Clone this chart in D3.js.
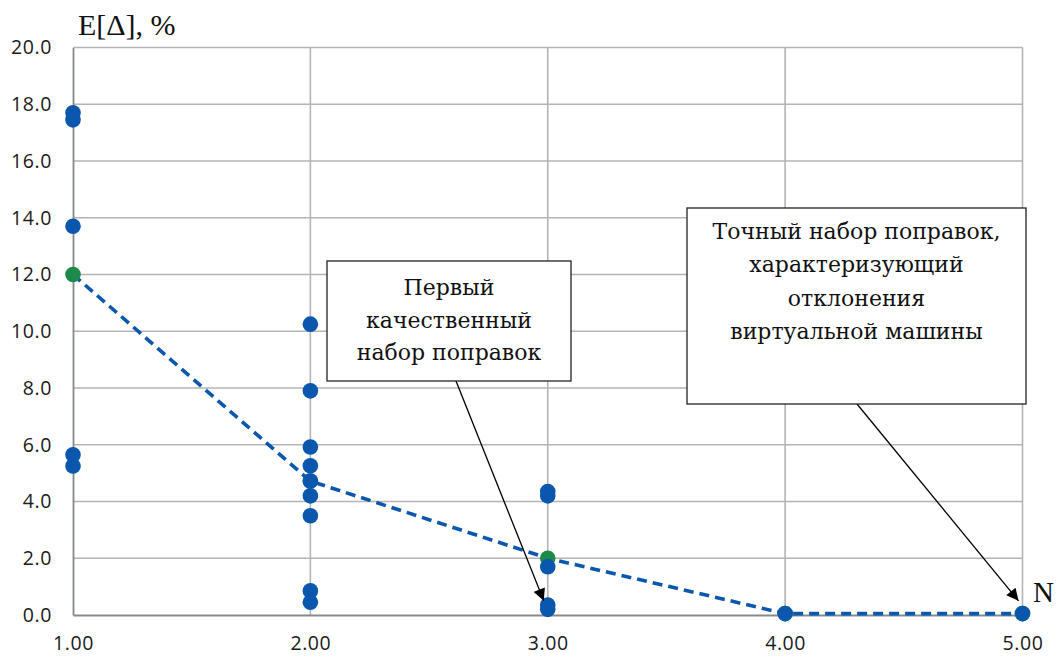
<!DOCTYPE html>
<html>
<head>
<meta charset="utf-8">
<script src="https://cdn.jsdelivr.net/npm/d3@7"></script>
<style>
  html, body { margin: 0; padding: 0; background: #fff; }
  svg { display: block; }
</style>
</head>
<body>
<svg id="chart" width="1057" height="657"></svg>
<script>
// Number of correction sets N and the mean error E[Δ] of each candidate
const xTicks = [1, 2, 3, 4, 5];
const yTicks = [0, 2, 4, 6, 8, 10, 12, 14, 16, 18, 20];

const pointN = [1, 1, 1, 1, 1,
                2, 2, 2, 2, 2, 2, 2, 2, 2,
                3, 3, 3, 3, 3,
                4, 5];
const pointE = [17.7, 17.45, 13.7, 5.65, 5.25,
                10.25, 7.9, 5.92, 5.26, 4.72, 4.2, 3.5, 0.85, 0.45,
                4.35, 4.2, 1.7, 0.35, 0.2,
                0.05, 0.05];

// Best set at each N, joined by the dashed line
const bestN = [1, 2, 3, 4, 5];
const bestE = [12.0, 4.72, 2.0, 0.05, 0.05];

// Callouts: text lines and the point each arrow refers to
const note1Lines = ["Первый", "качественный", "набор поправок"];
const note1Target = [3, 0.5];
const note2Lines = ["Точный набор поправок,", "характеризующий", "отклонения", "виртуальной машины"];
const note2Target = [5, 0.5];

const svg = d3.select("#chart");
const plotLeft = 73, plotRight = 1022.5, plotTop = 47.5, plotBottom = 615;

const x = d3.scaleLinear().domain([1, 5]).range([plotLeft, plotRight]);
const y = d3.scaleLinear().domain([0, 20]).range([plotBottom, plotTop]);

const gridColor = "#b4b4b4";
const axisColor = "#85898a";
const blue = "#0b57ad";
const green = "#1c8a4b";
const serif = "'DejaVu Serif', 'Liberation Serif', serif";

// Grid
svg.append("g").selectAll("line").data(yTicks.filter(d => d > 0)).join("line")
  .attr("x1", plotLeft).attr("x2", plotRight)
  .attr("y1", d => y(d)).attr("y2", d => y(d))
  .attr("stroke", gridColor).attr("stroke-width", 1.6);
svg.append("g").selectAll("line").data(xTicks.filter(d => d > 1)).join("line")
  .attr("x1", d => x(d)).attr("x2", d => x(d))
  .attr("y1", plotTop).attr("y2", plotBottom)
  .attr("stroke", gridColor).attr("stroke-width", 1.6);

// Axes
const yAxis = d3.axisLeft(y).tickValues(yTicks).tickFormat(d3.format(".1f")).tickSize(0).tickPadding(21);
const xAxis = d3.axisBottom(x).tickValues(xTicks).tickFormat(d3.format(".2f")).tickSize(0).tickPadding(21);

const gy = svg.append("g").attr("transform", `translate(${plotLeft},0)`).call(yAxis);
const gx = svg.append("g").attr("transform", `translate(0,${plotBottom})`).call(xAxis);
[gx, gy].forEach(g => {
  g.select(".domain").attr("stroke", axisColor).attr("stroke-width", 1.8);
  g.selectAll("text")
    .attr("font-family", "'Open Sans', 'Liberation Sans', sans-serif")
    .attr("font-size", 19.5).attr("letter-spacing", 0.6).attr("fill", "#1a1a1a");
});

// Dashed line through the best set at each N
const lineData = bestN.map((n, i) => [n, bestE[i]]);
svg.append("path")
  .datum(lineData)
  .attr("d", d3.line().x(d => x(d[0])).y(d => y(d[1])))
  .attr("fill", "none").attr("stroke", blue)
  .attr("stroke-width", 3.6).attr("stroke-dasharray", "10,6");

// Best-set markers
svg.append("g").selectAll("circle").data(lineData).join("circle")
  .attr("cx", d => x(d[0])).attr("cy", d => y(d[1])).attr("r", 7.8)
  .attr("fill", green);

// All candidate sets
svg.append("g").selectAll("circle").data(pointN.map((n, i) => [n, pointE[i]])).join("circle")
  .attr("cx", d => x(d[0])).attr("cy", d => y(d[1])).attr("r", 7.8)
  .attr("fill", blue);

// Axis titles
svg.append("text").attr("x", 78).attr("y", 35)
  .attr("font-family", "'Liberation Serif', serif")
  .attr("font-size", 30).attr("fill", "#111").text("E[Δ], %");
svg.append("text").attr("x", 1033).attr("y", 602)
  .attr("font-family", "'Liberation Serif', serif")
  .attr("font-size", 29).attr("fill", "#111").text("N");

// Arrowhead
svg.append("defs").append("marker")
  .attr("id", "arrow").attr("viewBox", "0 0 10 10")
  .attr("refX", 10).attr("refY", 5)
  .attr("markerWidth", 14).attr("markerHeight", 12)
  .attr("markerUnits", "userSpaceOnUse")
  .attr("orient", "auto")
  .append("path").attr("d", "M0,0 L10,5 L0,10 Z").attr("fill", "#000");

function callout(box, lines, lineY, start, target) {
  svg.append("line")
    .attr("x1", start[0]).attr("y1", start[1])
    .attr("x2", x(target[0]) - 4).attr("y2", y(target[1]))
    .attr("stroke", "#000").attr("stroke-width", 1.3)
    .attr("marker-end", "url(#arrow)");
  svg.append("rect")
    .attr("x", box[0]).attr("y", box[1]).attr("width", box[2]).attr("height", box[3])
    .attr("fill", "#fff").attr("stroke", "#222").attr("stroke-width", 1.3);
  svg.append("g").selectAll("text").data(lines).join("text")
    .attr("x", box[0] + box[2] / 2)
    .attr("y", (d, i) => lineY[0] + i * lineY[1])
    .attr("text-anchor", "middle")
    .attr("font-family", serif)
    .attr("font-size", 22).attr("fill", "#111")
    .text(d => d);
}

callout([327, 261, 244, 120], note1Lines, [295, 32.5], [456, 381], note1Target);
callout([687, 208, 339, 196], note2Lines, [239, 33.3], [857, 404], note2Target);
</script>
</body>
</html>
